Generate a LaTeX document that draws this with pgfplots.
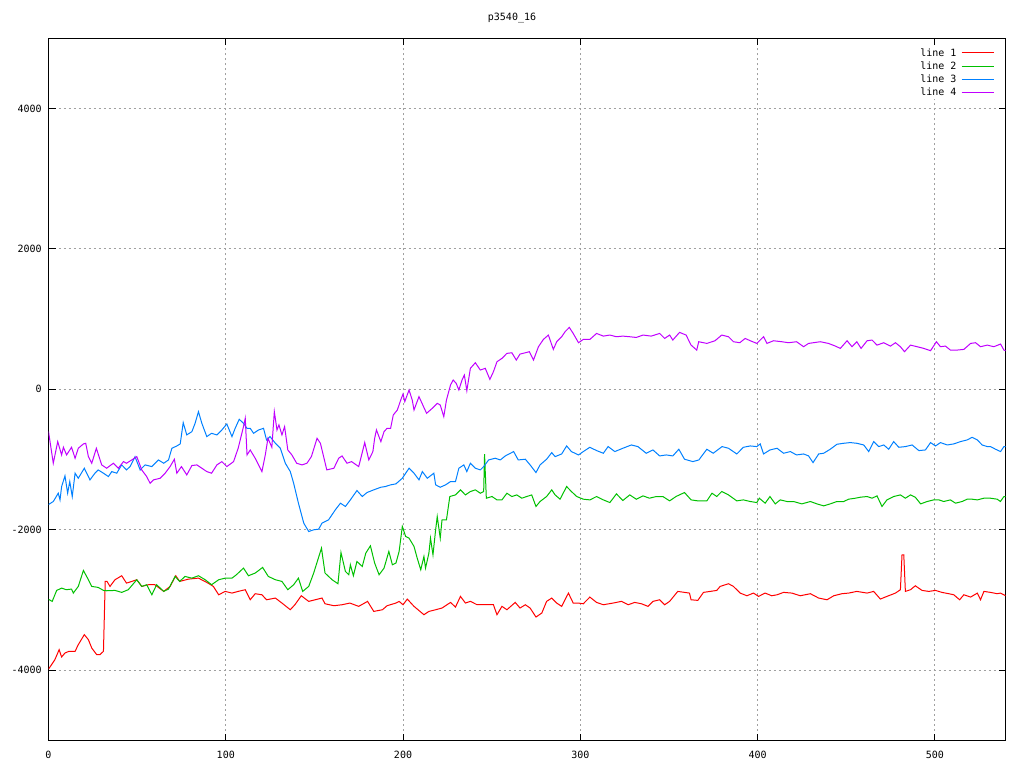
\documentclass[border=0pt]{standalone}
\usepackage{fontspec}
\setmainfont{DejaVu Sans Mono}
\usepackage{pgfplots}
\pgfplotsset{compat=1.18}
\definecolor{gpred}{RGB}{255,0,0}
\definecolor{gpgreen}{RGB}{0,192,0}
\definecolor{gpblue}{RGB}{0,128,255}
\definecolor{gpmag}{RGB}{192,0,255}
\definecolor{gpgrid}{RGB}{160,160,160}
\begin{document}
\fontsize{10}{12}\selectfont
\begin{tikzpicture}[x=1pt,y=1pt]
\path[use as bounding box] (0,0) rectangle (1024,768);
\begin{axis}[
  at={(48.5pt,27.5pt)}, anchor=south west,
  scale only axis, width=957.2pt, height=702.3pt,
  xmin=0, xmax=540, ymin=-5000, ymax=5000,
  xtick={0,100,200,300,400,500},
  ytick={-4000,-2000,0,2000,4000},
  grid=major,
  major grid style={gpgrid, line width=1pt, dash pattern=on 2pt off 3pt},
  axis line style={black, line width=1pt},
  tick style={black, line width=1pt},
  major tick length=7pt,
  tick align=inside,
  /pgf/number format/assume math mode=true,
  /pgf/number format/set thousands separator={},
  ticklabel style={font=\fontsize{10}{12}\selectfont},
  xticklabel style={yshift=-7.5pt},
  yticklabel style={xshift=-3.3pt},
  legend plot pos=right,
  legend cell align=right,
  legend image code/.code={\draw[#1, line width=1pt] (0pt,0pt) -- (32pt,0pt);},
  legend style={at={(axis description cs:1,1)}, anchor=north east, xshift=-11.5pt, yshift=-8.5pt,
    draw=white, fill=white, inner sep=0pt, row sep=1pt, column sep=3pt,
    nodes={inner sep=1.5pt}, font=\fontsize{10}{12}\selectfont},
  every axis plot/.append style={line width=1pt, no marks},
]
\addplot[color=gpred] coordinates {(0,-3985) (3.6,-3849) (6,-3707) (7.4,-3811) (9.3,-3754) (11.6,-3730) (15,-3730) (16.8,-3636) (20.2,-3493) (22.5,-3564) (24.4,-3683) (27.2,-3778) (29,-3778) (31,-3730) (32,-2735) (33,-2735) (34.7,-2806) (37.5,-2711) (41.3,-2654) (44,-2759) (47,-2735) (49.8,-2711) (52.6,-2806) (56.4,-2782) (60,-2782) (65,-2877) (68.6,-2806) (71.8,-2654) (74,-2735) (79,-2702) (84.6,-2688) (90,-2759) (93,-2806) (96,-2925) (99.7,-2877) (103.5,-2901) (107,-2877) (111,-2853) (113.8,-2996) (116.6,-2910) (120.4,-2925) (123,-2996) (128,-2972) (131.7,-3043) (136.4,-3138) (139,-3067) (142.6,-2939) (146.8,-3019) (150.5,-2996) (154.3,-2972) (156,-3053) (161,-3081) (165.6,-3067) (170,-3043) (175,-3090) (180,-3019) (183.5,-3162) (188.4,-3138) (191,-3081) (196,-3043) (197.8,-3019) (200,-3067) (202.4,-2986) (206.2,-3090) (211.8,-3209) (214.6,-3162) (218.4,-3138) (222,-3114) (226.8,-3034) (229.6,-3100) (232.4,-2948) (235.2,-3043) (238,-3019) (241.8,-3067) (246.4,-3067) (251,-3067) (253,-3209) (255.8,-3090) (258.6,-3138) (263.3,-3034) (266,-3114) (269,-3067) (271.7,-3114) (275,-3242) (278.3,-3185) (281,-3019) (283.9,-2972) (286.7,-3043) (289.5,-3090) (293.3,-2901) (296,-3043) (298.9,-3043) (301.7,-3053) (305.4,-2958) (309.2,-3034) (313,-3067) (318.5,-3043) (323.2,-3019) (327,-3067) (330.7,-3034) (334.5,-3053) (338.2,-3090) (341,-3019) (344.8,-2996) (347.6,-3067) (350.4,-3019) (355,-2877) (358.8,-2891) (361.6,-2901) (362.5,-2996) (366.3,-3005) (369.5,-2891) (373.3,-2877) (377,-2863) (378.9,-2806) (383.6,-2768) (386.4,-2806) (390.2,-2901) (394,-2939) (397.7,-2901) (400.6,-2948) (404.3,-2901) (408,-2939) (411,-2925) (414.7,-2891) (419.4,-2901) (424.1,-2939) (429.8,-2910) (434.5,-2972) (439.2,-2996) (443,-2939) (447.6,-2910) (451.4,-2901) (456,-2877) (461.8,-2901) (465.5,-2877) (469.3,-2986) (473,-2948) (477.8,-2901) (480.6,-2853) (481.5,-2356) (482.5,-2356) (483.4,-2877) (486.3,-2853) (489,-2797) (492.8,-2863) (496.6,-2877) (500.4,-2863) (504,-2891) (507.9,-2910) (510.7,-2925) (514,-2996) (516.4,-2925) (520.2,-2958) (524,-2901) (525.8,-2996) (527.7,-2877) (531.4,-2891) (535.2,-2910) (537,-2901) (540,-2939)};
\addlegendentry{line 1}
\addplot[color=gpgreen] coordinates {(0,-2990) (2.1,-3019) (4.6,-2863) (7.4,-2830) (10,-2853) (13,-2844) (14,-2901) (16.8,-2806) (19.7,-2579) (22.5,-2711) (24.4,-2806) (28,-2820) (31,-2863) (32.8,-2868) (37.5,-2863) (41.3,-2891) (45,-2853) (49.8,-2711) (52.6,-2806) (55.4,-2782) (58.3,-2925) (61,-2782) (65,-2877) (67.7,-2844) (71.4,-2664) (74,-2735) (77,-2664) (80.9,-2688) (84.6,-2654) (88.4,-2711) (92,-2782) (96,-2711) (99.7,-2688) (103.5,-2688) (106,-2640) (110,-2545) (112.8,-2654) (116.6,-2616) (120.8,-2536) (124,-2664) (128,-2711) (131.7,-2735) (135,-2853) (138.3,-2782) (141,-2688) (143.4,-2877) (146.8,-2806) (149.6,-2616) (154,-2261) (156,-2616) (160,-2711) (163.3,-2768) (165,-2323) (167.5,-2593) (169.4,-2640) (170.3,-2498) (172,-2654) (174,-2451) (177,-2522) (179,-2332) (181.6,-2228) (184,-2474) (186.5,-2640) (189.3,-2545) (192,-2308) (194,-2498) (196,-2474) (197.8,-2308) (199.6,-1953) (201.5,-2095) (203.4,-2119) (206.2,-2237) (208,-2403) (210,-2569) (211.8,-2379) (212.7,-2545) (214.6,-2332) (215.5,-2119) (216.9,-2356) (218.4,-2000) (219.3,-1811) (221,-2119) (222,-1858) (224.5,-1858) (226.4,-1526) (229.6,-1503) (232.4,-1431) (235.2,-1503) (238,-1455) (240.8,-1431) (243.6,-1479) (245.5,-1455) (246,-924) (247,-1550) (250.2,-1526) (253,-1574) (255.8,-1574) (258.6,-1479) (261.4,-1526) (264.2,-1503) (267,-1550) (269.8,-1526) (272.6,-1503) (275,-1668) (277.3,-1597) (281,-1526) (283.9,-1431) (285.8,-1503) (288.6,-1564) (292.3,-1384) (295,-1455) (298,-1526) (301.7,-1564) (305.4,-1574) (309.2,-1526) (313,-1574) (316.7,-1612) (320.4,-1488) (324,-1583) (327.9,-1503) (331.6,-1564) (335.4,-1517) (339,-1550) (342.9,-1526) (346.6,-1526) (350.4,-1588) (354,-1526) (358.8,-1469) (362.5,-1574) (366.3,-1588) (371.4,-1588) (374.3,-1479) (377,-1526) (379.8,-1455) (383.6,-1503) (388.3,-1588) (392,-1574) (395.9,-1597) (399.6,-1612) (401,-1550) (404.3,-1621) (407,-1526) (410,-1631) (412.8,-1574) (416.6,-1597) (420.3,-1597) (425,-1631) (429.8,-1597) (433.5,-1631) (437.3,-1659) (441,-1631) (444.8,-1597) (448.6,-1597) (451.4,-1564) (455.2,-1550) (458,-1536) (461.8,-1526) (464.6,-1550) (467.4,-1517) (470.2,-1668) (473,-1574) (476.8,-1526) (480.6,-1503) (483.4,-1550) (486.3,-1503) (489,-1536) (492,-1631) (495.7,-1597) (499.4,-1574) (502.3,-1574) (505,-1597) (508.8,-1574) (511.7,-1621) (515.4,-1597) (518.3,-1564) (521,-1564) (524,-1574) (527.7,-1550) (531.4,-1550) (535.2,-1564) (537,-1597) (539,-1526) (540,-1526)};
\addlegendentry{line 2}
\addplot[color=gpblue] coordinates {(0,-1640) (2.7,-1597) (5.5,-1479) (6.5,-1574) (7.4,-1384) (9.3,-1232) (10.8,-1479) (12,-1313) (13.4,-1526) (15,-1194) (16.8,-1266) (20.2,-1123) (23.4,-1289) (26.2,-1194) (28,-1147) (31,-1194) (33.8,-1242) (35.7,-1171) (38.5,-1194) (41.3,-1076) (44,-1147) (46,-1100) (48.8,-958) (51.7,-1147) (54.5,-1076) (58.3,-1100) (62,-1005) (65,-1052) (67.7,-1005) (69.6,-839) (72.4,-806) (74.3,-777) (76,-474) (78,-649) (80.9,-602) (82.7,-483) (84.6,-318) (86.5,-483) (89.3,-673) (92,-626) (95,-649) (97.8,-578) (100.6,-493) (103.5,-673) (105.3,-555) (107.6,-427) (110,-483) (112,-555) (113.8,-555) (115.7,-626) (118.5,-578) (121.3,-555) (123,-720) (125,-673) (128,-768) (130.8,-839) (133.6,-1052) (136.4,-1171) (138.3,-1337) (141,-1621) (144,-1905) (146.8,-2024) (149.6,-2000) (152.4,-1991) (154.3,-1905) (158,-1858) (161.8,-1716) (164.7,-1621) (167.5,-1668) (170.3,-1574) (174,-1441) (177,-1526) (179.7,-1469) (183.5,-1431) (187.5,-1394) (190,-1384) (193,-1360) (196,-1346) (199.6,-1266) (203.4,-1123) (206.2,-1194) (209,-1289) (210.9,-1171) (213.7,-1266) (217.4,-1194) (218.4,-1360) (221,-1394) (224,-1360) (226.8,-1313) (229.6,-1313) (231.5,-1123) (234.3,-1076) (236,-1171) (238,-1052) (240.8,-1123) (243.6,-1147) (245.5,-1100) (248.3,-1005) (252,-981) (254.9,-1005) (257.7,-948) (262.4,-886) (265,-1005) (269,-995) (271.7,-1076) (275,-1185) (277.3,-1076) (281,-995) (283.9,-901) (285.8,-958) (289.5,-920) (292.3,-806) (295,-886) (299,-934) (301.7,-886) (305.4,-825) (309.2,-872) (313,-910) (315.7,-815) (319.5,-886) (324,-839) (328.8,-792) (332.5,-815) (337.2,-910) (341,-863) (344.8,-948) (348.5,-934) (352.2,-948) (355.6,-853) (358.8,-995) (363.5,-1029) (366.9,-1005) (371.4,-853) (375,-910) (380,-815) (383.6,-839) (388.3,-920) (392,-825) (395.9,-806) (399.6,-815) (401.5,-777) (403.4,-920) (407,-863) (411,-839) (414.7,-910) (418.5,-886) (422,-934) (426,-920) (428.8,-948) (431.3,-1043) (434.5,-920) (437.3,-910) (441,-853) (444.8,-782) (448.6,-768) (452.3,-758) (456,-768) (459.9,-792) (462.7,-886) (465.5,-744) (468.4,-815) (471.2,-792) (474,-853) (476.8,-744) (479.7,-825) (483.4,-815) (487.2,-792) (491,-872) (494.7,-863) (497.6,-758) (500.4,-806) (503.2,-758) (507,-792) (510.7,-777) (514.5,-744) (518.3,-720) (521,-683) (524,-720) (526.7,-792) (529.6,-815) (531.4,-815) (534.3,-853) (537.1,-886) (539,-815) (540,-815)};
\addlegendentry{line 3}
\addplot[color=gpmag] coordinates {(0,-600) (2.7,-1052) (5.2,-744) (7.4,-934) (8.4,-825) (10.2,-934) (13,-825) (15,-981) (16.8,-839) (19.7,-777) (21,-768) (22.5,-958) (24.4,-1052) (27,-839) (30,-1076) (32.8,-1123) (36.6,-1052) (39.4,-1123) (42.3,-1029) (44,-1052) (47,-1005) (49.8,-958) (52.6,-1147) (55.4,-1242) (57.3,-1337) (59.2,-1289) (63,-1266) (65.8,-1194) (68.6,-1100) (71,-995) (72.4,-1194) (75,-1100) (78,-1218) (80.9,-1085) (83.7,-1076) (86.5,-1123) (89.3,-1171) (92,-1194) (95,-1076) (97.8,-1029) (100.6,-1100) (104.4,-1029) (107,-839) (110,-531) (111,-412) (112,-934) (113.8,-863) (116.6,-981) (120.4,-1171) (122.3,-934) (123.8,-697) (126,-825) (127.4,-318) (128.9,-578) (130,-507) (131.7,-649) (133.2,-531) (135,-863) (137.3,-934) (140,-1052) (143,-1076) (145.8,-1052) (148.3,-958) (151.5,-697) (153.4,-768) (157,-1147) (161,-1123) (163.7,-981) (165.6,-948) (168.4,-1052) (171,-1029) (175,-1100) (178.4,-758) (180.7,-1005) (183,-886) (184,-697) (185,-578) (187.5,-744) (189.3,-602) (191,-555) (193,-555) (194.5,-365) (196.8,-294) (198.7,-152) (200,-66) (201,-175) (203.4,-9) (205.2,-152) (206.2,-294) (209,-104) (212,-270) (213.3,-341) (216.5,-270) (219.3,-199) (221,-223) (223,-389) (224.5,-152) (226.8,62) (228.3,133) (230,85) (231.5,-9) (233.3,133) (234.6,204) (236,-19) (238,299) (240.8,379) (243.6,275) (246.4,299) (249,142) (251,251) (253,393) (255.8,441) (258.6,512) (261.4,521) (263.9,417) (266,502) (269,521) (271.3,536) (273.6,417) (276.4,607) (279.2,711) (282,773) (284.8,569) (286.7,678) (289.5,749) (291.4,820) (293.8,882) (296,796) (299,664) (301.7,711) (305.4,711) (309.2,796) (313,758) (316.7,773) (320.4,749) (324,758) (327.9,749) (331.6,739) (335.4,773) (340,758) (344.8,796) (347.6,725) (350.4,773) (352.2,702) (356,811) (359.7,773) (362.5,630) (365.7,559) (366.8,678) (371.4,654) (376,692) (379.8,773) (383.6,749) (386.4,678) (390,664) (393,725) (395.9,692) (399.6,654) (401.5,702) (403.4,749) (405.3,654) (409,692) (413.7,678) (417.5,664) (422,678) (426,607) (428.8,654) (435.4,678) (440,654) (443.9,616) (446.7,583) (450.5,692) (453.3,607) (456,678) (458.4,583) (461.8,692) (464.6,702) (467.4,630) (471.2,664) (475,616) (477.8,664) (480.6,607) (482.9,536) (486.3,630) (490,607) (493.8,583) (497.6,550) (500.9,678) (503.2,607) (506,616) (508.8,559) (512.6,559) (516.4,569) (520.2,654) (523,664) (525.8,607) (529.6,630) (533.3,607) (537.1,645) (539,559) (540,550)};
\addlegendentry{line 4}
\end{axis}
\node[font=\fontsize{10}{12}\selectfont] at (512,750) {p3540\_16};
\end{tikzpicture}
\end{document}
